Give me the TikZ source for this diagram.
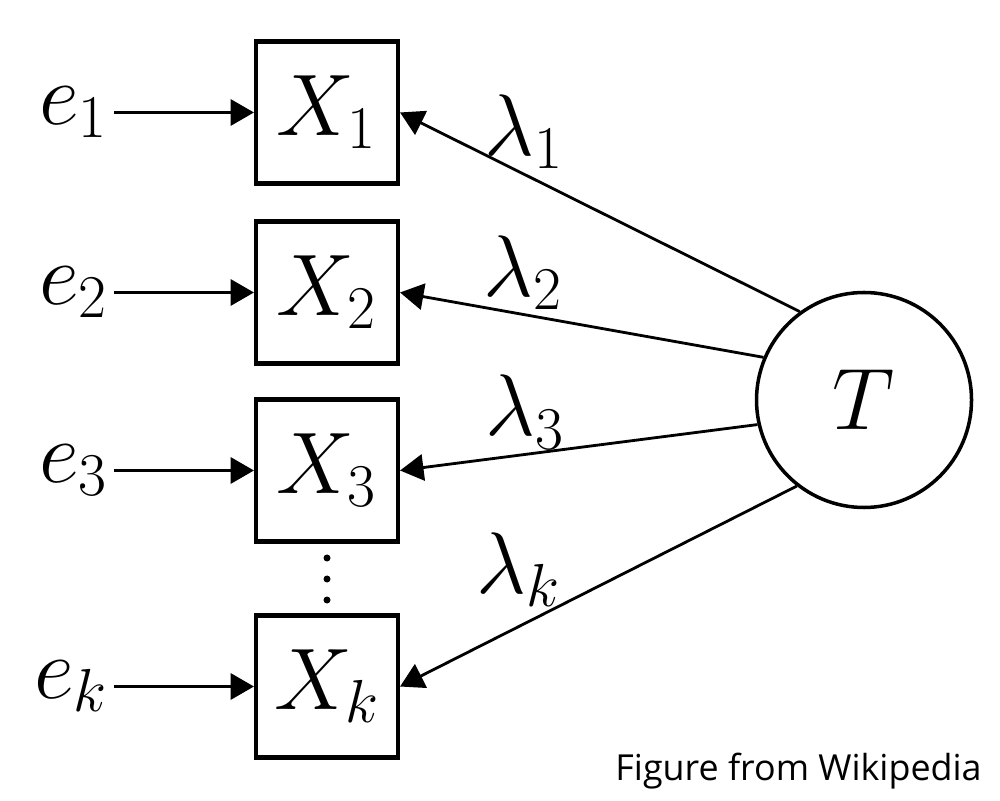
\documentclass[tikz,border=0pt]{standalone}
\usepackage{fontspec}
\setsansfont{Open Sans}
\usetikzlibrary{positioning,arrows}
\tikzstyle{obs}=[shape=rectangle, draw, line width=1.2pt, minimum size=1.42cm]
\tikzstyle{lat}=[shape=circle, draw, line width=1pt, minimum size=2.15cm]

\begin{document}
\begin{tikzpicture}[inner sep=0.4mm, line width=0.8pt, font=\fontsize{23}{28}\selectfont]
\useasboundingbox (0,0) rectangle (10,8);

\node (x1) [obs] at (3.27,6.875) {$X_1$};
\node (x2) [obs] at (3.27,5.075) {$X_2$};
\node (x3) [obs] at (3.27,3.295) {$X_3$};
\node (xk) [obs] at (3.27,1.135) {$X_k$};
\node (t) [lat] at (8.64,4.0) {$T$};

\node (e1) [left=1.4cm of x1] {$e_1$};
\node (e2) [left=1.4cm of x2] {$e_2$};
\node (e3) [left=1.4cm of x3] {$e_3$};
\node (ek) [left=1.4cm of xk] {$e_k$};

\draw[-triangle 60] (e1) -- (x1);
\draw[-triangle 60] (e2) -- (x2);
\draw[-triangle 60] (e3) -- (x3);
\draw[-triangle 60] (ek) -- (xk);

\draw[-triangle 60] (t.126) -- node [pos=.69, above] {$\lambda_1$} (x1.east);
\draw[-triangle 60] (t.157.6) -- node [pos=.66, above] {$\lambda_2$} (x2.east);
\draw[-triangle 60] (t.193) -- node [pos=.65, above] {$\lambda_3$} (x3.east);
\draw[-triangle 60] (t.232.4) -- node [pos=.70, above=4pt] {$\lambda_k$} (xk.east);

% dots between X3 and Xk
\foreach \y in {2.42,2.21,2.00}
  \fill (3.27,\y) circle (0.035);

\node (src) [anchor=base east, font=\sffamily\fontsize{10.2}{12}\selectfont] at (9.87,0.2) {Figure from Wikipedia};

\end{tikzpicture}
\end{document}
